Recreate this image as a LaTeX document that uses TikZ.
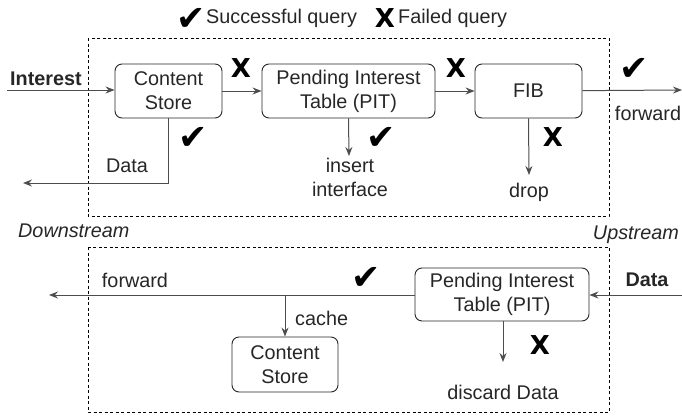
\documentclass[tikz,border=0pt]{standalone}
\usepackage{fontspec}
\setmainfont{Liberation Sans}
\newfontfamily\symfont{DejaVu Sans}
\usepackage{tikz}
\usetikzlibrary{arrows.meta,positioning}

\definecolor{txt}{HTML}{262626}
\definecolor{ln}{HTML}{4D4D4D}

\tikzset{
  table/.style={draw=txt,line width=0.9pt,rounded corners=7pt,minimum height=54pt,align=center,
    text=txt,font=\fontsize{19.8}{24}\selectfont,inner sep=0pt},
  flow/.style={draw=ln,line width=1pt,-{Stealth[length=9pt,width=7pt,inset=3pt]}},
  lbl/.style={text=txt,font=\fontsize{19.8}{24}\selectfont,inner sep=0pt,align=center},
  ok/.style={font=\symfont\fontsize{35}{35}\selectfont,inner sep=0pt},
  nok/.style={font=\symfont\bfseries\fontsize{26}{26}\selectfont,inner sep=0pt},
  frame/.style={draw,line width=0.8pt,dash pattern=on 3pt off 2.5pt},
}

\begin{document}
\begin{tikzpicture}[x=1pt,y=-1pt]
  \useasboundingbox (0,0) rectangle (682,415);

  % legend
  \node[ok] (okkey) at (191,19) {✔};
  \node[lbl,anchor=west] (okname) at (206,18) {Successful query};
  \node[nok] (nokkey) at (385,18) {X};
  \node[lbl,anchor=west] (nokname) at (398,18) {Failed query};

  % the two router halves
  \draw[frame] (88,38) rectangle (609,216);
  \draw[frame] (88,247) rectangle (609,412);
  \node[lbl,anchor=west,font=\itshape\fontsize{19.8}{24}\selectfont] (down) at (18,231) {Downstream};
  \node[lbl,anchor=east,font=\itshape\fontsize{19.8}{24}\selectfont] (up) at (679,235) {Upstream};

  % interest path
  \node[table,minimum width=107pt] (cs) at (168.5,91) {Content\\Store};
  \node[table,minimum width=173pt] (pit) at (348.5,91) {Pending Interest\\Table (PIT)};
  \node[table,minimum width=107pt] (fib) at (528.5,91) {FIB};

  \coordinate (intin) at (7,90);
  \coordinate (dataout) at (23,183);
  \coordinate (fwdout) at (682,90);
  \coordinate (insert) at (349,156);
  \coordinate (drop) at (529,175);

  \node[lbl,font=\bfseries\fontsize{19.8}{24}\selectfont] (interest) at (46,79) {Interest};
  \draw[flow] (intin) -- (cs.west |- intin);
  \draw[flow] (cs) -- (pit);
  \draw[flow] (pit) -- (fib);
  \draw[flow] (fib) -- (fwdout);
  \draw[flow] (cs.south) |- (dataout);
  \draw[flow] (pit.south) -- (insert);
  \draw[flow] (fib.south) -- (drop);

  \node[lbl] (datalbl) at (127,166) {Data};
  \node[lbl] (insertlbl) at (350,177) {insert\\interface};
  \node[lbl] (droplbl) at (529,192) {drop};
  \node[lbl] (fwdlbl) at (648,113) {forward};

  \node[nok] (x1) at (241,68) {X};
  \node[nok] (x2) at (456,68) {X};
  \node[nok] (x3) at (553,137) {X};
  \node[ok] (v1) at (193,138) {✔};
  \node[ok] (v2) at (381,138) {✔};
  \node[ok] (v3) at (634,69) {✔};

  % data path
  \node[table,minimum width=174pt,minimum height=53pt] (pitd) at (502,294.5) {Pending Interest\\Table (PIT)};
  \node[table,minimum width=106pt,minimum height=55pt] (csd) at (285,364.5) {Content\\Store};

  \coordinate (datain) at (682,295);
  \coordinate (fwdback) at (49,295);
  \coordinate (discard) at (503,362);

  \node[lbl,font=\bfseries\fontsize{19.8}{24}\selectfont] (datain lbl) at (647,280) {Data};
  \draw[flow] (datain) -- (pitd.east |- datain);
  \draw[flow] (pitd.west |- fwdback) -- (fwdback);
  \draw[flow] (csd.north |- fwdback) -- (csd.north);
  \draw[flow] (pitd.south -| discard) -- (discard);

  \node[lbl] (fwdback lbl) at (135,280) {forward};
  \node[lbl,anchor=west] (cachelbl) at (295,318) {cache};
  \node[lbl] (discardlbl) at (503,392) {discard Data};
  \node[ok] (v4) at (366,278) {✔};
  \node[nok] (x4) at (540,345) {X};
\end{tikzpicture}
\end{document}
